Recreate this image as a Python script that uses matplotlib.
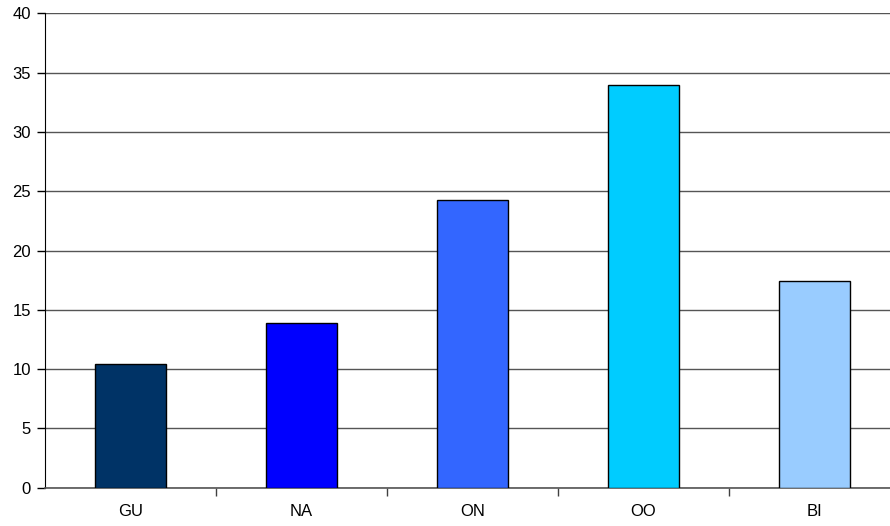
import matplotlib
matplotlib.use('Agg')
import matplotlib.pyplot as plt

# --- Data ---
categories = ['GU', 'NA', 'ON', 'OO', 'BI']
values = [10.4, 13.9, 24.3, 34.0, 17.4]
colors = ['#003366', '#0000FF', '#3366FF', '#00CCFF', '#99CCFF']
y_ticks = [0, 5, 10, 15, 20, 25, 30, 35, 40]

plt.rcParams['font.family'] = ['Liberation Sans', 'DejaVu Sans']

fig = plt.figure(figsize=(8.9, 5.26), dpi=100)
# right edge of the plot area runs slightly past the image, as in the original
ax = fig.add_axes([45 / 890, 1 - 487.7 / 526, 855 / 890, (487.7 - 13.4) / 526])

x = range(len(categories))
ax.bar(x, values, width=0.41, color=colors, edgecolor='black', linewidth=1.0, zorder=3)

ax.set_xlim(-0.5, len(categories) - 0.5)
ax.set_ylim(0, 40)
ax.set_yticks(y_ticks)
ax.set_yticklabels([str(t) for t in y_ticks], fontsize=12)

# category labels centred, tick marks between categories
ax.set_xticks(list(x))
ax.set_xticklabels(categories, fontsize=12)
ax.tick_params(axis='x', which='major', length=0, pad=12)
ax.set_xticks([i + 0.5 for i in range(len(categories) - 1)], minor=True)
ax.tick_params(axis='x', which='minor', length=6, width=1, color='#404040', direction='out')
ax.tick_params(axis='y', length=6, width=1, color='black', direction='out', pad=4)

ax.yaxis.grid(True, color='#555555', linewidth=1.0, zorder=0)
ax.set_axisbelow(True)

for side in ['top', 'right']:
    ax.spines[side].set_visible(False)
ax.spines['left'].set_color('black')
ax.spines['bottom'].set_color('#555555')
ax.spines['bottom'].set_linewidth(1.2)

fig.savefig('out.png', dpi=100)
